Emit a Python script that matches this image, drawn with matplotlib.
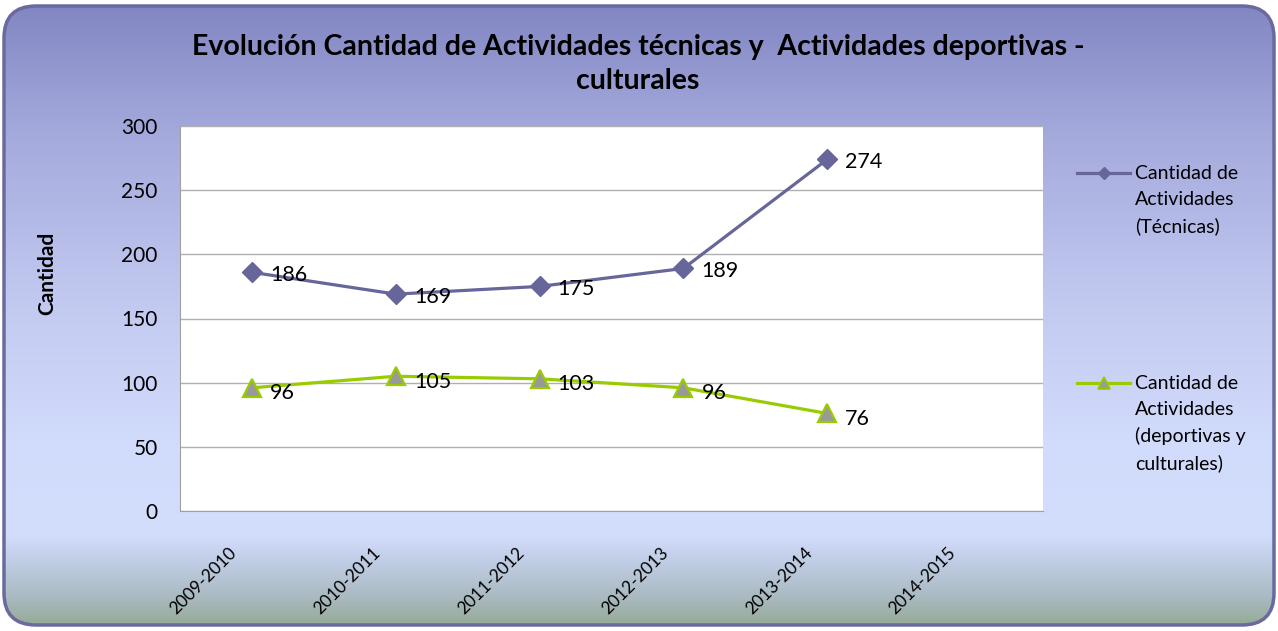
import numpy as np
import matplotlib
matplotlib.use("Agg")
import matplotlib.pyplot as plt
import matplotlib.transforms as mtransforms
from matplotlib.patches import FancyBboxPatch
from matplotlib.colors import LinearSegmentedColormap
from matplotlib.lines import Line2D

plt.rcParams['font.family'] = ['Lato', 'DejaVu Sans']

periodos = ['2009-2010', '2010-2011', '2011-2012', '2012-2013', '2013-2014', '2014-2015']
tecnicas = [186, 169, 175, 189, 274]
deportivas = [96, 105, 103, 96, 76]
label_tec = 'Cantidad de\nActividades\n(Técnicas)'
label_dep = 'Cantidad de\nActividades\n(deportivas y\nculturales)'

W, H = 1278, 631
fig = plt.figure(figsize=(W / 100, H / 100), dpi=100)
fig.patch.set_facecolor('white')

# background with rounded frame and vertical gradient
bg = fig.add_axes([0, 0, 1, 1])
bg.set_xlim(0, W)
bg.set_ylim(H, 0)
bg.axis('off')
stops = [(0, '#8185c2'), (130, '#a4a9dc'), (300, '#c2c9f0'), (440, '#d1dbfb'),
         (535, '#d3defd'), (560, '#c2cfe8'), (600, '#a9b9c0'), (631, '#92a890')]
cmap = LinearSegmentedColormap.from_list('bg', [(p / H, c) for p, c in stops])
grad = np.linspace(0, 1, 400).reshape(-1, 1)
im = bg.imshow(grad, cmap=cmap, aspect='auto', extent=(0, W, H, 0), zorder=0)
frame = FancyBboxPatch((4, 6), W - 8, H - 12, boxstyle='round,pad=0,rounding_size=32',
                       facecolor='none', edgecolor='#6a6a9e', linewidth=2.5, zorder=2)
bg.add_patch(frame)
im.set_clip_path(frame)

# plot area
ax = fig.add_axes([180 / W, (H - 511) / H, (1043 - 180) / W, (511 - 126) / H])
ax.set_facecolor('white')
x = np.arange(len(periodos))
ax.set_xlim(-0.5, len(periodos) - 0.5)
ax.set_ylim(0, 300)
ax.set_yticks(range(0, 301, 50))
ax.grid(axis='y', color='#b0b0b0', linewidth=1)
ax.set_axisbelow(True)
for s in ['top', 'right']:
    ax.spines[s].set_visible(False)
for s in ['left', 'bottom']:
    ax.spines[s].set_color('#a0a0a0')
ax.tick_params(length=0)
ax.tick_params(axis='y', labelsize=15, pad=16)
ax.set_xticks(x)
ax.set_xticklabels(periodos, rotation=45, ha='right', va='top', fontsize=12.5)
ax.tick_params(axis='x', pad=24)
shift = mtransforms.ScaledTranslation(-12 / 100, 0, fig.dpi_scale_trans)
for lbl in ax.get_xticklabels():
    lbl.set_transform(lbl.get_transform() + shift)

purple = '#66669a'
green = '#99cc00'
ax.plot(x[:len(tecnicas)], tecnicas, color=purple, linewidth=2.3, marker='D',
        markersize=10.5, zorder=3, clip_on=False)
ax.plot(x[:len(deportivas)], deportivas, color=green, linewidth=2.3, marker='^',
        markersize=13, markerfacecolor='#999999', markeredgecolor=green,
        markeredgewidth=1.6, zorder=3, clip_on=False)
for xi, v in zip(x, tecnicas):
    ax.annotate(str(v), (xi, v), xytext=(13, -2), textcoords='offset points',
                va='center', ha='left', fontsize=15.5)
for xi, v in zip(x, deportivas):
    ax.annotate(str(v), (xi, v), xytext=(13, -4), textcoords='offset points',
                va='center', ha='left', fontsize=15.5)

fig.text(638 / W, 1 - 64 / H,
         'Evolución Cantidad de Actividades técnicas y  Actividades deportivas -\nculturales',
         ha='center', va='center', fontsize=20.5, fontweight='bold', linespacing=1.4)
fig.text(47 / W, 1 - 273 / H, 'Cantidad', rotation=90, ha='center', va='center',
         fontsize=15, fontweight='bold')

# legend drawn by hand to keep handles aligned with first text line
for ypix, col, mk, lab in [(173, purple, 'D', label_tec), (383, green, '^', label_dep)]:
    yf = 1 - ypix / H
    ln = Line2D([1077 / W, 1130 / W], [yf, yf], color=col, linewidth=2.3,
                transform=fig.transFigure)
    if mk == 'D':
        mkr = Line2D([1103.5 / W], [yf], color=col, marker='D', markersize=6.5,
                     transform=fig.transFigure)
    else:
        mkr = Line2D([1103.5 / W], [yf], marker='^', markersize=8.5, markerfacecolor='#999999',
                     markeredgecolor=col, markeredgewidth=1.3, transform=fig.transFigure)
    fig.add_artist(ln)
    fig.add_artist(mkr)
    fig.text(1135 / W, yf + 8 / H, lab, ha='left', va='top', fontsize=14, linespacing=1.62)

fig.savefig('out.png', dpi=100)
